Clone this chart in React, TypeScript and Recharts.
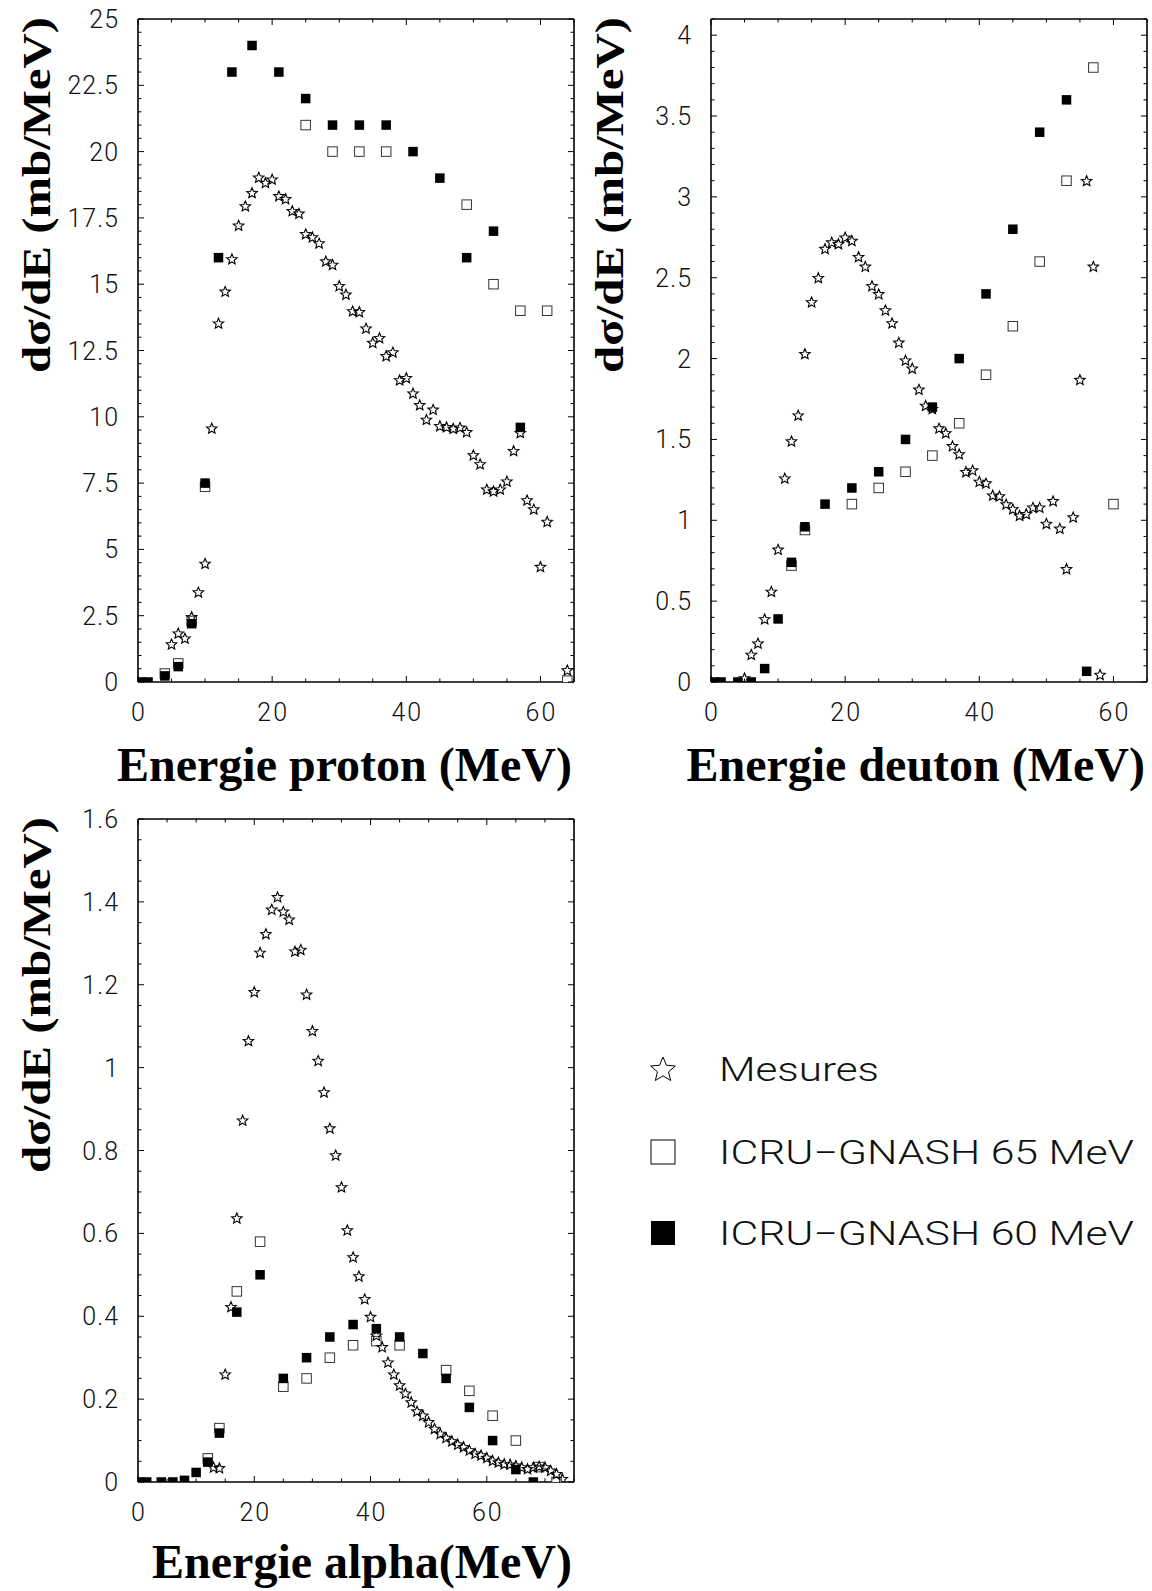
import React from 'react';
import { ScatterChart, Scatter, XAxis, YAxis } from 'recharts';

type P = [number, number];

// ---------- Proton ----------
const PROTON_MESURES: P[] = [
  [5, 1.43], [6, 1.84], [7, 1.65], [8, 2.46], [9, 3.39], [10, 4.47], [11, 9.57], [12, 13.53],
  [13, 14.73], [14, 15.95], [15, 17.22], [16, 17.95], [17, 18.45], [18, 19.03], [19, 18.83],
  [20, 18.96], [21, 18.33], [22, 18.22], [23, 17.77], [24, 17.67], [25, 16.9], [26, 16.78],
  [27, 16.55], [28, 15.87], [29, 15.74], [30, 14.94], [31, 14.62], [32, 13.99], [33, 13.96],
  [34, 13.34], [35, 12.8], [36, 12.98], [37, 12.3], [38, 12.44], [39, 11.39], [40, 11.47],
  [41, 10.89], [42, 10.45], [43, 9.9], [44, 10.28], [45, 9.66], [46, 9.62], [47, 9.56],
  [48, 9.6], [49, 9.43], [50, 8.56], [51, 8.22], [52, 7.27], [53, 7.2], [54, 7.27],
  [55, 7.57], [56, 8.72], [57, 9.4], [58, 6.86], [59, 6.52], [60, 4.35], [61, 6.05], [64, 0.45],
];
const PROTON_GNASH65: P[] = [
  [4, 0.32], [6, 0.7], [8, 2.3], [10, 7.36], [25, 21], [29, 20], [33, 20], [37, 20],
  [49, 18], [53, 15], [57, 14], [61, 14], [64, 0.05],
];
const PROTON_GNASH60: P[] = [
  [0.5, 0], [1.5, 0], [4, 0.23], [6, 0.58], [8, 2.2], [10, 7.5], [12, 16], [14, 23], [17, 24],
  [21, 23], [25, 22], [29, 21], [33, 21], [37, 21], [41, 20], [45, 19], [49, 16], [53, 17], [57, 9.6],
];

// ---------- Deuton ----------
const DEUTON_MESURES: P[] = [
  [5, 0.025], [6, 0.17], [7, 0.24], [8, 0.39], [9, 0.56], [10, 0.82], [11, 1.26], [12, 1.49],
  [13, 1.65], [14, 2.03], [15, 2.35], [16, 2.5], [17, 2.68], [18, 2.72], [19, 2.71], [20, 2.75],
  [21, 2.73], [22, 2.63], [23, 2.57], [24, 2.45], [25, 2.4], [26, 2.3], [27, 2.22], [28, 2.1],
  [29, 1.99], [30, 1.94], [31, 1.81], [32, 1.71], [33, 1.69], [34, 1.57], [35, 1.54], [36, 1.46],
  [37, 1.41], [38, 1.3], [39, 1.31], [40, 1.24], [41, 1.23], [42, 1.155], [43, 1.15], [44, 1.1],
  [45, 1.07], [46, 1.03], [47, 1.04], [48, 1.08], [49, 1.08], [50, 0.98], [51, 1.12], [52, 0.95],
  [53, 0.7], [54, 1.02], [55, 1.87], [56, 3.1], [57, 2.57], [58, 0.046],
];
const DEUTON_GNASH65: P[] = [
  [12, 0.72], [14, 0.94], [21, 1.1], [25, 1.2], [29, 1.3], [33, 1.4], [37, 1.6], [41, 1.9],
  [45, 2.2], [49, 2.6], [53, 3.1], [57, 3.8], [60, 1.1],
];
const DEUTON_GNASH60: P[] = [
  [0.5, 0], [1.5, 0], [4, 0], [6, 0], [8, 0.083], [10, 0.39], [12, 0.74], [14, 0.96], [17, 1.1],
  [21, 1.2], [25, 1.3], [29, 1.5], [33, 1.7], [37, 2.0], [41, 2.4], [45, 2.8], [49, 3.4],
  [53, 3.6], [56, 0.066],
];

// ---------- Alpha ----------
const ALPHA_MESURES: P[] = [
  [13, 0.036], [14, 0.034], [15, 0.26], [16, 0.423], [17, 0.637], [18, 0.873], [19, 1.065],
  [20, 1.183], [21, 1.278], [22, 1.323], [23, 1.382], [24, 1.412], [25, 1.377], [26, 1.358],
  [27, 1.281], [28, 1.285], [29, 1.177], [30, 1.089], [31, 1.017], [32, 0.941], [33, 0.854],
  [34, 0.789], [35, 0.712], [36, 0.608], [37, 0.543], [38, 0.497], [39, 0.442], [40, 0.399],
  [41, 0.354], [42, 0.326], [43, 0.289], [44, 0.26], [45, 0.234], [46, 0.214], [47, 0.193],
  [48, 0.171], [49, 0.161], [50, 0.145], [51, 0.129], [52, 0.117], [53, 0.107], [54, 0.099],
  [55, 0.091], [56, 0.085], [57, 0.077], [58, 0.069], [59, 0.065], [60, 0.059], [61, 0.052],
  [62, 0.048], [63, 0.044], [64, 0.043], [65, 0.04], [66, 0.036], [67, 0.032], [68, 0.036],
  [69, 0.038], [70, 0.036], [71, 0.028], [72, 0.02], [73, 0.008],
];
const ALPHA_GNASH65: P[] = [
  [12, 0.057], [14, 0.13], [17, 0.46], [21, 0.58], [25, 0.23], [29, 0.25], [33, 0.3], [37, 0.33],
  [41, 0.34], [45, 0.33], [53, 0.27], [57, 0.22], [61, 0.16], [65, 0.1], [69, 0.036], [72, 0],
];
const ALPHA_GNASH60: P[] = [
  [0.5, 0], [1.5, 0], [4, 0], [6, 0], [8, 0.004], [10, 0.023], [12, 0.048], [14, 0.118], [17, 0.41],
  [21, 0.5], [25, 0.25], [29, 0.3], [33, 0.35], [37, 0.38], [41, 0.37], [45, 0.35], [49, 0.31],
  [53, 0.25], [57, 0.18], [61, 0.1], [65, 0.03], [68, 0],
];

// ---------- Axes / labels ----------
const X_LABELS = ['0', '20', '40', '60'];
const PROTON_Y_LABELS = ['0', '2.5', '5', '7.5', '10', '12.5', '15', '17.5', '20', '22.5', '25'];
const DEUTON_Y_LABELS = ['0', '0.5', '1', '1.5', '2', '2.5', '3', '3.5', '4'];
const ALPHA_Y_LABELS = ['0', '0.2', '0.4', '0.6', '0.8', '1', '1.2', '1.4', '1.6'];
const Y_TITLE = 'dσ/dE (mb/MeV)';
const LEGEND_NAMES = ['Mesures', 'ICRU\u2212GNASH 65 MeV', 'ICRU\u2212GNASH 60 MeV'];

const PLOT_W = 436;
const PLOT_H = 663;
const TICK_FONT = "Roboto, 'DejaVu Sans', sans-serif";
const TITLE_FONT = "'Liberation Serif', 'Times New Roman', serif";

const range = (max: number, step: number) =>
  Array.from({ length: Math.round(max / step) + 1 }, (_, i) => +(i * step).toFixed(4));
const toPts = (a: P[]) => a.map(([x, y]) => ({ x, y }));
const fmt = (v: number) => String(Math.round(v * 1000) / 1000);

const starPath = (cx: number, cy: number, R: number) => {
  const pts: string[] = [];
  for (let i = 0; i < 10; i++) {
    const a = (-90 + i * 36) * Math.PI / 180;
    const r = i % 2 === 0 ? R : R * 0.45;
    pts.push(`${(cx + r * Math.cos(a)).toFixed(2)},${(cy + r * Math.sin(a)).toFixed(2)}`);
  }
  return 'M' + pts.join('L') + 'Z';
};

const StarShape = (p: any) => (
  <path d={starPath(p.cx, p.cy + 0.5, 5.5)} fill="none" stroke="#000" strokeWidth={1.1} />
);
const OpenSquare = (p: any) => (
  <rect x={p.cx - 4.75} y={p.cy - 4.75} width={9.5} height={9.5} fill="#fff" stroke="#333" strokeWidth={1} />
);
const FilledSquare = (p: any) => (
  <rect x={p.cx - 4.75} y={p.cy - 4.75} width={9.5} height={9.5} fill="#000" />
);

type PanelProps = {
  left: number; top: number; width: number; height: number;
  xMax: number; yMax: number; yStep: number; yLabels: string[];
  stars: P[]; open: P[]; filled: P[]; xTitle: string; xTitleOffset: number;
};

function Panel(props: PanelProps) {
  const { left, top, width, height, xMax, yMax, yStep, yLabels, stars, open, filled, xTitle, xTitleOffset } = props;
  const xTicks = range(xMax, 5);
  const yTicks = range(yMax, yStep).filter((v) => v <= yMax + 1e-9);
  const yMajorSet = new Set(yLabels);
  const xMajorSet = new Set(X_LABELS);

  const YTick = (p: any) => {
    const v = p.payload.value as number;
    const lbl = fmt(v);
    const major = yMajorSet.has(lbl);
    const len = major ? 6 : 3.5;
    const isTop = Math.abs(v - yMax) < 1e-6;
    return (
      <g>
        <line x1={p.x} x2={p.x + len} y1={p.y} y2={p.y} stroke="#000" strokeWidth={1} />
        <line x1={p.x + PLOT_W} x2={p.x + PLOT_W - len} y1={p.y} y2={p.y} stroke="#000" strokeWidth={1} />
        {isTop && (
          <line x1={p.x} x2={p.x + PLOT_W} y1={p.y} y2={p.y} stroke="#000" strokeWidth={1.6} />
        )}
        {major && (
          <text x={p.x - 19} y={p.y} dy="0.36em" textAnchor="end" fontFamily={TICK_FONT}
            fontWeight={300} fontSize={25} letterSpacing={1} fill="#111">{lbl}</text>
        )}
      </g>
    );
  };
  const XTick = (p: any) => {
    const v = p.payload.value as number;
    const lbl = fmt(v);
    const major = xMajorSet.has(lbl);
    const len = major ? 6 : 3.5;
    const isRight = Math.abs(v - xMax) < 1e-6;
    return (
      <g>
        <line x1={p.x} x2={p.x} y1={p.y} y2={p.y - len} stroke="#000" strokeWidth={1} />
        <line x1={p.x} x2={p.x} y1={p.y - PLOT_H} y2={p.y - PLOT_H + len} stroke="#000" strokeWidth={1} />
        {isRight && (
          <line x1={p.x} x2={p.x} y1={p.y} y2={p.y - PLOT_H} stroke="#000" strokeWidth={1.6} />
        )}
        {major && (
          <text x={p.x + 1} y={p.y + 30} dy="0.36em" textAnchor="middle" fontFamily={TICK_FONT}
            fontWeight={300} fontSize={25} letterSpacing={2} fill="#111">{lbl}</text>
        )}
      </g>
    );
  };

  const xLabel = (lp: any) => {
    const vb = lp.viewBox || {};
    return (
      <text x={vb.x + vb.width - 2} y={vb.y + xTitleOffset} textAnchor="end" fontFamily={TITLE_FONT}
        fontWeight="bold" fontSize={48} fill="#000">{xTitle}</text>
    );
  };
  const yLabel = (lp: any) => {
    const vb = lp.viewBox || {};
    const cx = vb.x + vb.width - 88;
    const cy = vb.y + 176;
    return (
      <text x={cx} y={cy} textAnchor="middle" transform={`rotate(-90 ${cx} ${cy})`}
        fontFamily={TITLE_FONT} fontWeight="bold" fontSize={41} fill="#000"
        textLength={356} lengthAdjust="spacingAndGlyphs">{Y_TITLE}</text>
    );
  };

  return (
    <div style={{ position: 'absolute', left, top, width, height }}>
      <ScatterChart width={width} height={height}
        margin={{ top: 19, right: width - 138 - PLOT_W, bottom: 0, left: 0 }}>
        <XAxis type="number" dataKey="x" domain={[0, xMax]} ticks={xTicks} interval={0}
          allowDataOverflow height={height - 19 - PLOT_H} tickSize={0} tickMargin={0}
          tickLine={false} axisLine={{ stroke: '#000', strokeWidth: 1.6 }} tick={XTick}
          label={{ content: xLabel }} />
        <YAxis type="number" dataKey="y" domain={[0, yMax]} ticks={yTicks} interval={0}
          allowDataOverflow width={138} tickSize={0} tickMargin={0}
          tickLine={false} axisLine={{ stroke: '#000', strokeWidth: 1.6 }} tick={YTick}
          label={{ content: yLabel }} />
        <Scatter name={LEGEND_NAMES[1]} data={toPts(open)} shape={OpenSquare} isAnimationActive={false} />
        <Scatter name={LEGEND_NAMES[2]} data={toPts(filled)} shape={FilledSquare} isAnimationActive={false} />
        <Scatter name={LEGEND_NAMES[0]} data={toPts(stars)} shape={StarShape} isAnimationActive={false} />
      </ScatterChart>
    </div>
  );
}

function LegendBox() {
  const rows = [1069, 1152, 1233];
  const textW = [160, 415, 415];
  return (
    <svg style={{ position: 'absolute', left: 600, top: 1000 }} width={545} height={280}>
      <g transform="translate(-600,-1000)">
        <path d={starPath(663, rows[0] + 1, 13)} fill="none" stroke="#000" strokeWidth={1} />
        <rect x={651} y={rows[1] - 12} width={24} height={24} fill="#fff" stroke="#000" strokeWidth={1} />
        <rect x={651} y={rows[2] - 12} width={24} height={24} fill="#000" />
        {LEGEND_NAMES.map((n, i) => (
          <text key={n} x={719} y={rows[i]} dy="0.36em" fontFamily={TICK_FONT} fontWeight={300}
            fontSize={33} fill="#111" textLength={textW[i]} lengthAdjust="spacingAndGlyphs">{n}</text>
        ))}
      </g>
    </svg>
  );
}

export default function App() {
  return (
    <div style={{ position: 'relative', width: 1152, height: 1591, background: '#fff', overflow: 'hidden' }}>
      <style>{'html,body{margin:0;padding:0;}'}</style>
      <Panel left={0} top={0} width={600} height={800} xMax={65} yMax={25} yStep={0.5}
        yLabels={PROTON_Y_LABELS} stars={PROTON_MESURES} open={PROTON_GNASH65} filled={PROTON_GNASH60}
        xTitle="Energie proton (MeV)" xTitleOffset={99} />
      <Panel left={573} top={0} width={578} height={800} xMax={65} yMax={4.1} yStep={0.1}
        yLabels={DEUTON_Y_LABELS} stars={DEUTON_MESURES} open={DEUTON_GNASH65} filled={DEUTON_GNASH60}
        xTitle="Energie deuton (MeV)" xTitleOffset={99} />
      <Panel left={0} top={800} width={600} height={790} xMax={75} yMax={1.6} yStep={0.05}
        yLabels={ALPHA_Y_LABELS} stars={ALPHA_MESURES} open={ALPHA_GNASH65} filled={ALPHA_GNASH60}
        xTitle="Energie alpha(MeV)" xTitleOffset={96} />
      <LegendBox />
    </div>
  );
}
